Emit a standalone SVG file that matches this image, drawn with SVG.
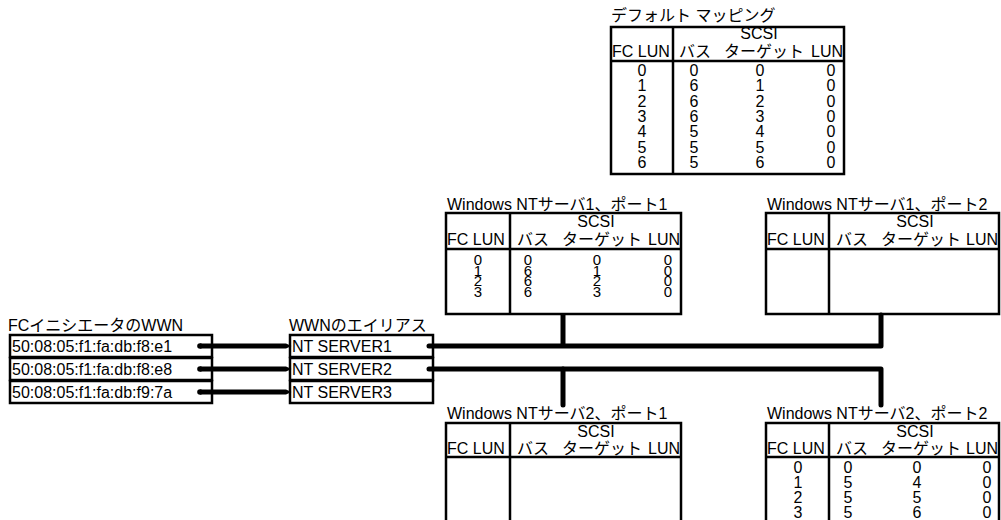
<svg xmlns="http://www.w3.org/2000/svg" width="1001" height="520" viewBox="0 0 1001 520">
<defs>
<marker id="dot" markerUnits="userSpaceOnUse" markerWidth="8" markerHeight="8" refX="4" refY="4" orient="auto" overflow="visible">
<circle cx="4" cy="4" r="2.8" fill="#000"/>
</marker>
<marker id="taper" markerUnits="userSpaceOnUse" markerWidth="7" markerHeight="6" refX="0" refY="3" orient="auto" overflow="visible">
<path d="M0 0.5 L5.5 3 L0 5.5 Z" fill="#000"/>
</marker>
</defs>
<style>
text{font-family:"Liberation Sans","Noto Sans CJK JP",sans-serif;font-size:16px;fill:#000}
.c{text-anchor:middle}
.e{text-anchor:end}
.s{font-size:15px}
.b{fill:#fff;stroke:#000;stroke-width:2.5}
.l{stroke:#000;stroke-width:2.5;fill:none}
.w{fill:none;stroke:#000;stroke-width:5;stroke-linejoin:round}
.a{fill:none;stroke:#000;stroke-width:5;marker-start:url(#dot);marker-end:url(#taper)}
</style>
<rect width="1001" height="520" fill="#fff"/>

<g id="default-map">
<text x="611" y="21">デフォルト マッピング</text>
<rect class="b" x="611" y="27" width="233" height="147"/>
<line class="l" x1="673" y1="27" x2="673" y2="174"/>
<line class="l" x1="611" y1="61" x2="844" y2="61"/>
<text class="c" x="759" y="39">SCSI</text>
<text x="612" y="57">FC LUN</text>
<text x="679" y="57">バス</text>
<text x="724" y="57">ターゲット</text>
<text class="e" x="843" y="57">LUN</text>
<text class="c"><tspan x="642" y="76">0</tspan><tspan x="642" dy="15.33">1</tspan><tspan x="642" dy="15.33">2</tspan><tspan x="642" dy="15.33">3</tspan><tspan x="642" dy="15.33">4</tspan><tspan x="642" dy="15.33">5</tspan><tspan x="642" dy="15.33">6</tspan></text>
<text class="c"><tspan x="694" y="76">0</tspan><tspan x="694" dy="15.33">6</tspan><tspan x="694" dy="15.33">6</tspan><tspan x="694" dy="15.33">6</tspan><tspan x="694" dy="15.33">5</tspan><tspan x="694" dy="15.33">5</tspan><tspan x="694" dy="15.33">5</tspan></text>
<text class="c"><tspan x="760" y="76">0</tspan><tspan x="760" dy="15.33">1</tspan><tspan x="760" dy="15.33">2</tspan><tspan x="760" dy="15.33">3</tspan><tspan x="760" dy="15.33">4</tspan><tspan x="760" dy="15.33">5</tspan><tspan x="760" dy="15.33">6</tspan></text>
<text class="c"><tspan x="831" y="76">0</tspan><tspan x="831" dy="15.33">0</tspan><tspan x="831" dy="15.33">0</tspan><tspan x="831" dy="15.33">0</tspan><tspan x="831" dy="15.33">0</tspan><tspan x="831" dy="15.33">0</tspan><tspan x="831" dy="15.33">0</tspan></text>
</g>

<g id="server1-port1">
<text x="447" y="210">Windows NTサーバ1、ポート1</text>
<rect class="b" x="446" y="213" width="235" height="101"/>
<line class="l" x1="510" y1="213" x2="510" y2="314"/>
<line class="l" x1="446" y1="249" x2="681" y2="249"/>
<text class="c" x="596" y="227">SCSI</text>
<text x="447" y="245">FC LUN</text>
<text x="517" y="245">バス</text>
<text x="562" y="245">ターゲット</text>
<text class="e" x="680" y="245">LUN</text>
<text class="c s"><tspan x="478" y="265">0</tspan><tspan x="478" dy="10.7">1</tspan><tspan x="478" dy="10.7">2</tspan><tspan x="478" dy="10.7">3</tspan></text>
<text class="c s"><tspan x="528" y="265">0</tspan><tspan x="528" dy="10.7">6</tspan><tspan x="528" dy="10.7">6</tspan><tspan x="528" dy="10.7">6</tspan></text>
<text class="c s"><tspan x="597" y="265">0</tspan><tspan x="597" dy="10.7">1</tspan><tspan x="597" dy="10.7">2</tspan><tspan x="597" dy="10.7">3</tspan></text>
<text class="c s"><tspan x="668" y="265">0</tspan><tspan x="668" dy="10.7">0</tspan><tspan x="668" dy="10.7">0</tspan><tspan x="668" dy="10.7">0</tspan></text>
</g>

<g id="server1-port2">
<text x="767" y="210">Windows NTサーバ1、ポート2</text>
<rect class="b" x="766" y="213" width="233" height="101"/>
<line class="l" x1="829" y1="213" x2="829" y2="314"/>
<line class="l" x1="766" y1="249" x2="999" y2="249"/>
<text class="c" x="915" y="227">SCSI</text>
<text x="767" y="245">FC LUN</text>
<text x="836" y="245">バス</text>
<text x="881" y="245">ターゲット</text>
<text class="e" x="998" y="245">LUN</text>
</g>

<g id="server2-port1">
<text x="447" y="419">Windows NTサーバ2、ポート1</text>
<rect class="b" x="446" y="423" width="235" height="110"/>
<line class="l" x1="510" y1="423" x2="510" y2="533"/>
<line class="l" x1="446" y1="457" x2="681" y2="457"/>
<text class="c" x="596" y="437">SCSI</text>
<text x="447" y="454">FC LUN</text>
<text x="517" y="454">バス</text>
<text x="562" y="454">ターゲット</text>
<text class="e" x="680" y="454">LUN</text>
</g>

<g id="server2-port2">
<text x="767" y="419">Windows NTサーバ2、ポート2</text>
<rect class="b" x="766" y="423" width="233" height="110"/>
<line class="l" x1="829" y1="423" x2="829" y2="533"/>
<line class="l" x1="766" y1="457" x2="999" y2="457"/>
<text class="c" x="915" y="437">SCSI</text>
<text x="767" y="454">FC LUN</text>
<text x="836" y="454">バス</text>
<text x="881" y="454">ターゲット</text>
<text class="e" x="998" y="454">LUN</text>
<text class="c"><tspan x="798" y="473">0</tspan><tspan x="798" dy="15">1</tspan><tspan x="798" dy="15">2</tspan><tspan x="798" dy="15">3</tspan></text>
<text class="c"><tspan x="848" y="473">0</tspan><tspan x="848" dy="15">5</tspan><tspan x="848" dy="15">5</tspan><tspan x="848" dy="15">5</tspan></text>
<text class="c"><tspan x="917" y="473">0</tspan><tspan x="917" dy="15">4</tspan><tspan x="917" dy="15">5</tspan><tspan x="917" dy="15">6</tspan></text>
<text class="c"><tspan x="987" y="473">0</tspan><tspan x="987" dy="15">0</tspan><tspan x="987" dy="15">0</tspan><tspan x="987" dy="15">0</tspan></text>
</g>

<g id="initiator-wwn">
<text x="8" y="331">FCイニシエータのWWN</text>
<rect class="b" x="10" y="335" width="202" height="22"/>
<rect class="b" x="10" y="358" width="202" height="22"/>
<rect class="b" x="10" y="381" width="202" height="22"/>
<text x="12" y="352">50:08:05:f1:fa:db:f8:e1</text>
<text x="12" y="375">50:08:05:f1:fa:db:f8:e8</text>
<text x="12" y="398">50:08:05:f1:fa:db:f9:7a</text>
</g>

<g id="wwn-alias">
<text x="289" y="331">WWNのエイリアス</text>
<rect class="b" x="290" y="335" width="143" height="22"/>
<rect class="b" x="290" y="358" width="143" height="22"/>
<rect class="b" x="290" y="381" width="143" height="22"/>
<text x="292" y="352">NT SERVER1</text>
<text x="292" y="375">NT SERVER2</text>
<text x="292" y="398">NT SERVER3</text>
</g>

<g id="connectors">
<path class="a" d="M200 346 H286"/>
<path class="a" d="M200 369 H286"/>
<path class="a" d="M200 392 H286"/>
<path class="w" stroke-linecap="round" d="M429 346 H881 V315"/>
<path class="w" d="M563 315 V346"/>
<path class="w" stroke-linecap="round" d="M429 369 H881 V405"/>
<path class="w" stroke-linecap="round" d="M563 369 V405"/>
</g>
</svg>
